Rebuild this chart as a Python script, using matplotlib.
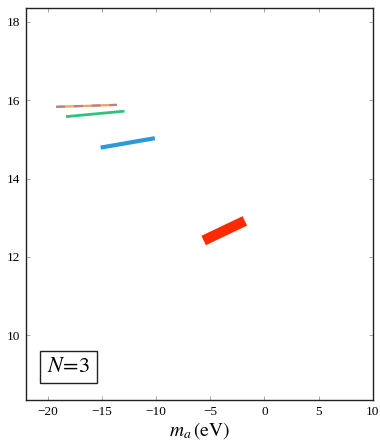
import matplotlib
matplotlib.use("Agg")
import matplotlib.pyplot as plt

plt.rcParams['mathtext.fontset'] = 'stix'
plt.rcParams['font.family'] = ['Liberation Serif', 'DejaVu Serif']

# band centre lines (x = m_a in eV, y = log value)
orange_x = [-19.2, -13.6]
orange_y = [15.83, 15.88]
green_x = [-18.3, -12.9]
green_y = [15.58, 15.72]
blue_x = [-15.1, -10.1]
blue_y = [14.79, 15.03]
red_x = [-5.6, -1.8]
red_y = [12.42, 12.92]

xticks = [-20, -15, -10, -5, 0, 5, 10]
yticks = [10, 12, 14, 16, 18]

fig = plt.figure(figsize=(3.8, 4.47), dpi=100)
ax = fig.add_axes([0.068, 0.105, 0.913, 0.877])

ax.plot(orange_x, orange_y, color='#f0a060', lw=1.6, solid_capstyle='butt')
ax.plot(orange_x, orange_y, color='#b88088', lw=1.6, dashes=(4, 4), solid_capstyle='butt')
ax.plot(green_x, green_y, color='#2ec27a', lw=2.0, solid_capstyle='butt')
ax.plot(blue_x, blue_y, color='#2a9ad8', lw=3.0, solid_capstyle='butt')
ax.plot(red_x, red_y, color='#ff2a00', lw=7.5, solid_capstyle='butt')

ax.set_xlim(-22, 10)
ax.set_ylim(8.35, 18.35)
ax.set_xticks(xticks)
ax.set_yticks(yticks)
ax.set_xticklabels([('\u2212%d' % -t) if t < 0 else str(t) for t in xticks])
ax.tick_params(direction='in', length=3, width=0.6, color='#999999',
               top=True, right=True, labelsize=9.5, pad=4)
for s in ax.spines.values():
    s.set_linewidth(1.0)
    s.set_color('#222222')

ax.set_xlabel(r'$m_a\,(\mathrm{eV})$', fontsize=14, labelpad=2)

ax.text(0.06, 0.06, r'$N\!=\!3$', transform=ax.transAxes, fontsize=16,
        ha='left', va='bottom',
        bbox=dict(boxstyle='square,pad=0.3', facecolor='white', edgecolor='#222222', lw=1.0))

fig.savefig('out.png', dpi=100)
